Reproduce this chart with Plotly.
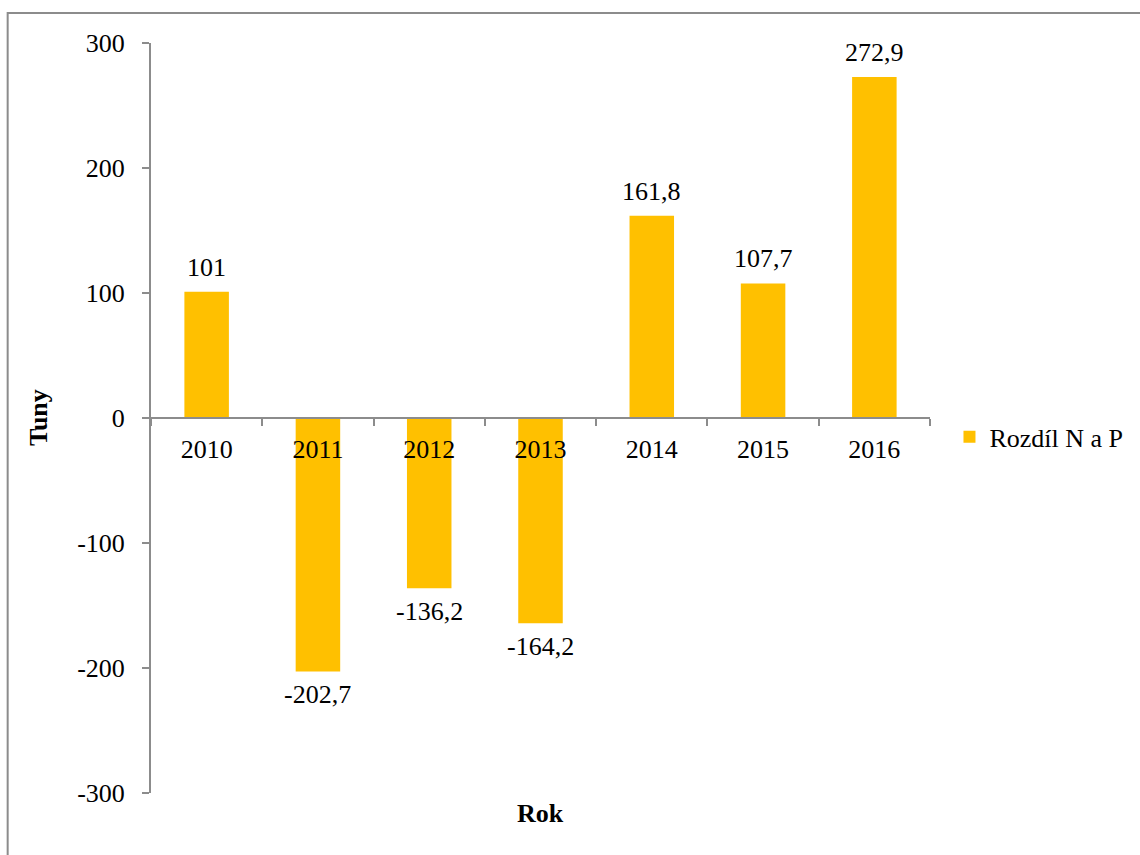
import plotly.graph_objects as go

# Rozdíl N a P po letech (tuny)
years = ["2010", "2011", "2012", "2013", "2014", "2015", "2016"]
diff_values = [101, -202.7, -136.2, -164.2, 161.8, 107.7, 272.9]
value_labels = ["101", "-202,7", "-136,2", "-164,2", "161,8", "107,7", "272,9"]
y_ticks = [-300, -200, -100, 0, 100, 200, 300]

FONT = "Liberation Serif, Times New Roman, serif"
FS = 26
AXIS_GREY = "#8c8c8c"
BAR_GOLD = "#FFC000"

fig = go.Figure()
fig.add_trace(go.Bar(
    x=years,
    y=diff_values,
    name="Rozdíl N a P",
    marker=dict(color=BAR_GOLD, line=dict(width=0)),
    width=0.4,
    showlegend=True,
))

# value labels above positive bars, below negative ones
# (x given as category index on the category axis)
value_annotations = [
    dict(x=i, y=v, xref="x", yref="y", text=lbl, showarrow=False,
         xanchor="center",
         yanchor="bottom" if v >= 0 else "top",
         yshift=8 if v >= 0 else -7,
         font=dict(family=FONT, size=FS, color="black"))
    for i, (v, lbl) in enumerate(zip(diff_values, value_labels))
]

fig.update_layout(
    width=1140,
    height=855,
    margin=dict(l=151, r=207, t=43, b=62),
    paper_bgcolor="white",
    plot_bgcolor="white",
    font=dict(family=FONT, size=FS, color="black"),
    bargap=0.6,
    showlegend=True,
    legend=dict(
        x=1.025, y=0.475, xanchor="left", yanchor="middle",
        font=dict(family=FONT, size=FS, color="black"),
        itemwidth=30,
        bgcolor="rgba(0,0,0,0)",
    ),
    xaxis=dict(
        type="category",
        categoryorder="array",
        categoryarray=years,
        range=[-0.5, len(years) - 0.5],
        anchor="free",
        position=0.5,
        showline=True,
        linecolor=AXIS_GREY,
        linewidth=2,
        ticks="outside",
        tickson="boundaries",
        ticklen=7,
        tickcolor=AXIS_GREY,
        tickwidth=2,
        showgrid=False,
        zeroline=False,
        ticklabelstandoff=8,
        tickfont=dict(family=FONT, size=FS, color="black"),
    ),
    yaxis=dict(
        range=[-300, 300],
        tickvals=y_ticks,
        ticktext=[str(v) for v in y_ticks],
        showline=True,
        linecolor=AXIS_GREY,
        linewidth=2,
        ticks="outside",
        ticklen=7,
        tickcolor=AXIS_GREY,
        tickwidth=2,
        showgrid=False,
        zeroline=False,
        ticklabelstandoff=12,
        tickfont=dict(family=FONT, size=FS, color="black"),
    ),
    annotations=value_annotations + [
        dict(text="<b>Tuny</b>", textangle=-90, x=-0.145, y=0.5,
             xref="paper", yref="paper", showarrow=False,
             xanchor="center", yanchor="middle",
             font=dict(family=FONT, size=FS, color="black")),
        dict(text="<b>Rok</b>", x=0.5, y=-0.027,
             xref="paper", yref="paper", showarrow=False,
             xanchor="center", yanchor="middle",
             font=dict(family=FONT, size=FS, color="black")),
    ],
    shapes=[
        dict(type="rect", xref="paper", yref="paper",
             x0=-0.184, x1=1.6, y0=-0.3, y1=1.04,
             line=dict(color=AXIS_GREY, width=2), layer="below"),
    ],
)

fig.write_html("out.html")
